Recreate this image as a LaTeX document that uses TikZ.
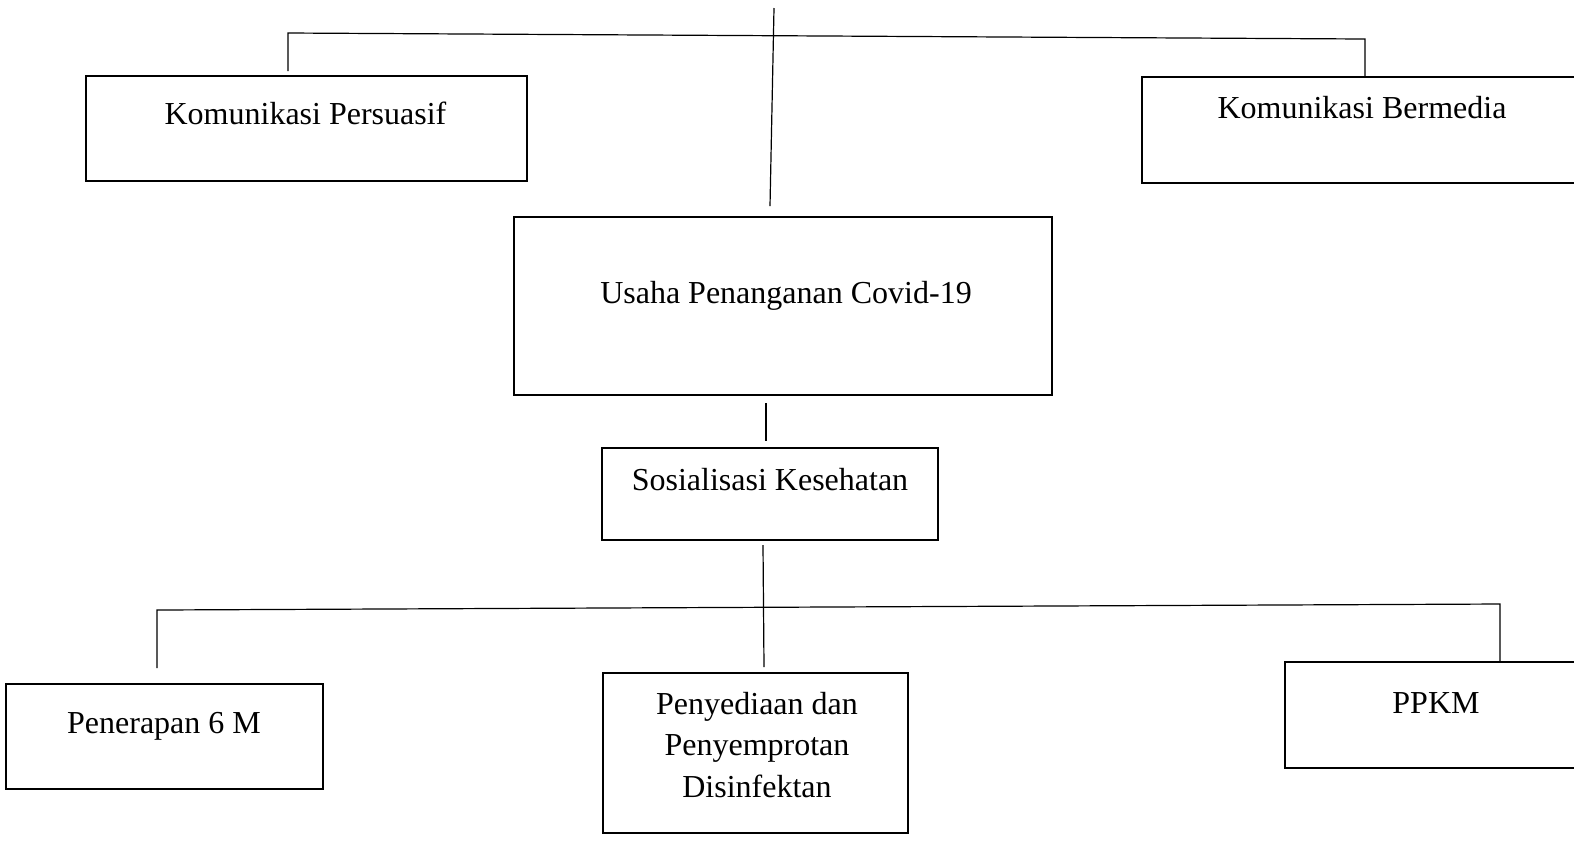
\documentclass[tikz,border=0pt]{standalone}
\usepackage{fontspec}
\setmainfont{Liberation Serif}
\begin{document}
\begin{tikzpicture}[x=0.5pt,y=-0.5pt,
  box/.style={draw=black,line width=1.4pt,rectangle,inner sep=0pt,fill=none},
  lbl/.style={font=\fontsize{16}{20}\selectfont,inner sep=0pt,align=center},
  conn/.style={draw=black,line width=0.6pt}]
\useasboundingbox (0,0) rectangle (1574,843);
% boxes
\node[box,minimum width=220.5pt,minimum height=52.5pt] (kp) at (306.5,128.5) {};
\node[box,minimum width=229pt,minimum height=53pt] (kb) at (1371,130) {};
\node[box,minimum width=269pt,minimum height=89pt] (uc) at (783,306) {};
\node[box,minimum width=168pt,minimum height=46pt] (sk) at (770,494) {};
\node[box,minimum width=158.5pt,minimum height=52.5pt] (p6) at (164.5,736.5) {};
\node[box,minimum width=152.5pt,minimum height=80pt] (pd) at (755.5,753) {};
\node[box,minimum width=157.5pt,minimum height=53pt] (pp) at (1442.5,715) {};
% texts
\node[lbl,anchor=base] (kpt) at (305.5,124) {Komunikasi Persuasif};
\node[lbl,anchor=base] (kbt) at (1362,118) {Komunikasi Bermedia};
\node[lbl,anchor=base] (uct) at (786,303) {Usaha Penanganan Covid-19};
\node[lbl,anchor=base] (skt) at (770,490) {Sosialisasi Kesehatan};
\node[lbl,anchor=base] (p6t) at (164,733) {Penerapan 6 M};
\node[lbl,anchor=base] (pdt1) at (757,714) {Penyediaan dan};
\node[lbl,anchor=base] (pdt2) at (757,755.5) {Penyemprotan};
\node[lbl,anchor=base] (pdt3) at (757,797) {Disinfektan};
\node[lbl,anchor=base] (ppt) at (1436,713.5) {PPKM};
% connector points
\coordinate (t0) at (774,8);
\coordinate (t1) at (770,206);
\coordinate (hl) at (288,33);
\coordinate (hr) at (1365,39);
\coordinate (hl2) at (288,71);
\coordinate (hr2) at (1365,77);
\coordinate (m0) at (766,403);
\coordinate (m1) at (766,441);
\coordinate (b0) at (763,545);
\coordinate (b1) at (764,667);
\coordinate (bl) at (157,610);
\coordinate (br) at (1500,604);
\coordinate (bl2) at (157,668);
\coordinate (br2) at (1500,662);
% connectors
\draw[conn] (t0) -- (t1);
\draw[conn] (hl2) -- (hl) -- (hr) -- (hr2);
\draw[conn] (m0) -- (m1);
\draw[conn] (b0) -- (b1);
\draw[conn] (bl2) -- (bl) -- (br) -- (br2);
\end{tikzpicture}
\end{document}
